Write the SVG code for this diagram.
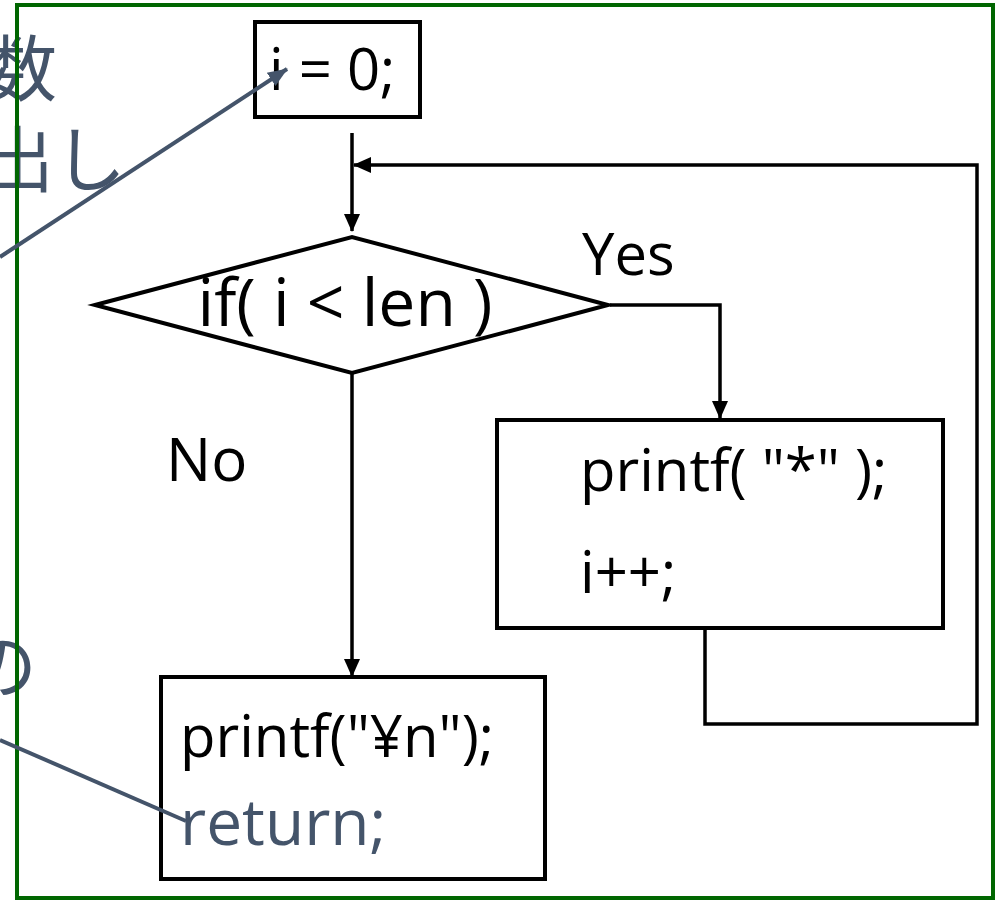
<svg xmlns="http://www.w3.org/2000/svg" width="1000" height="900" viewBox="0 0 1000 900">
<style>
  .box{fill:#fff;stroke:#000;stroke-width:4}
  .flow{fill:none;stroke:#000;stroke-width:3.5}
  .ann{fill:none;stroke:#44546a;stroke-width:4}
  .t{font-family:"Open Sans","Liberation Sans",sans-serif;font-size:58px;fill:#000}
  .tc{font-family:"Open Sans","Liberation Sans",sans-serif;font-size:66px;fill:#000}
  .tb{font-family:"Open Sans","Liberation Sans",sans-serif;font-size:64px;fill:#44546a}
  .cjk{font-family:"Noto Sans CJK JP","Noto Sans CJK SC",sans-serif;font-size:72px;fill:#44546a}
</style>
<defs>
  <marker id="ah" markerUnits="userSpaceOnUse" markerWidth="18" markerHeight="18" viewBox="0 0 18 18" refX="17" refY="9" orient="auto">
    <path d="M0,1 L18,9 L0,17 Z" fill="#000"/>
  </marker>
  <marker id="ahb" markerUnits="userSpaceOnUse" markerWidth="20" markerHeight="20" viewBox="0 0 20 20" refX="19" refY="10" orient="auto">
    <path d="M0,2 L20,10 L0,18 Z" fill="#44546a"/>
  </marker>
</defs>
<rect width="1000" height="900" fill="#fff"/>
<g id="annotations-text">
  <text class="cjk" x="-15" y="95">数</text>
  <text class="cjk" x="-18" y="186">出し</text>
  <text class="cjk" x="-35" y="692">の</text>
</g>
<rect id="frame" x="17" y="5" width="976" height="893" fill="none" stroke="#006600" stroke-width="4"/>
<g id="connectors">
  <line class="flow" x1="352" y1="133" x2="352" y2="231" marker-end="url(#ah)"/>
  <polyline class="flow" points="705,630 705,724 977,724 977,165 354,165" marker-end="url(#ah)"/>
  <polyline class="flow" points="610,305 720,305 720,418" marker-end="url(#ah)"/>
  <line class="flow" x1="352" y1="373" x2="352" y2="676" marker-end="url(#ah)"/>
</g>
<g id="n-init">
  <rect class="box" x="255" y="22" width="165" height="95"/>
  <text class="t" x="269" y="90">i = 0;</text>
</g>
<g id="n-cond">
  <polygon class="box" points="95,305 352,237 608,305 352,373"/>
  <text class="tc" x="345" y="326" text-anchor="middle">if( i &lt; len )</text>
</g>
<g id="lbl-yes"><text class="t" x="582" y="275">Yes</text></g>
<g id="lbl-no"><text class="t" x="166" y="481" style="font-size:60px">No</text></g>
<g id="n-body">
  <rect class="box" x="497" y="420" width="446" height="208"/>
  <text class="t" x="580" y="491">printf( "*" );</text>
  <text class="t" x="580" y="593">i++;</text>
</g>
<g id="n-end">
  <rect class="box" x="161" y="677" width="384" height="202"/>
  <text class="t" x="180" y="757">printf("¥n");</text>
  <text class="tb" x="180" y="845">return;</text>
</g>
<g id="annotation-lines">
  <line class="ann" x1="0" y1="257" x2="287" y2="69" marker-end="url(#ahb)"/>
  <line class="ann" x1="0" y1="740" x2="186" y2="821"/>
</g>
</svg>
